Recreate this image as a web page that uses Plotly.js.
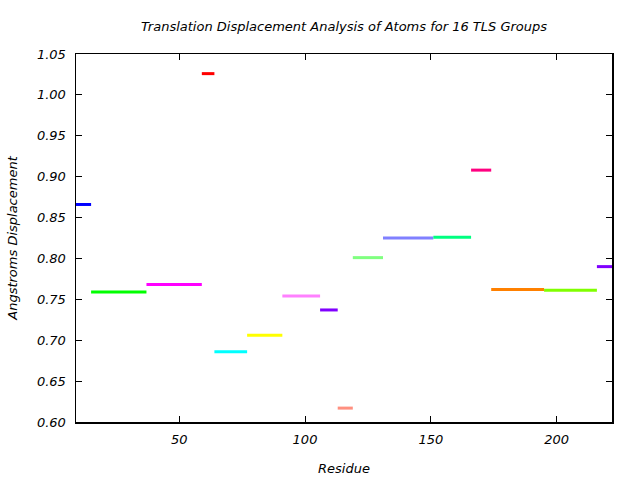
<!DOCTYPE html>
<html>
<head>
<meta charset="utf-8">
<script src="https://cdn.plot.ly/plotly-3.0.1.min.js"></script>
<style>html,body{margin:0;padding:0;background:#fff;}#chart{width:640px;height:480px;}</style>
</head>
<body>
<div id="chart"></div>
<script>
const groupStart = [9, 15, 37, 59, 64, 77, 91, 106, 113, 119, 131, 151, 166, 174, 195, 216];
const groupEnd   = [15, 37, 59, 64, 77, 91, 106, 113, 119, 131, 151, 166, 174, 195, 216, 222];
const displacement = [0.866, 0.759, 0.768, 1.026, 0.686, 0.706, 0.754, 0.737, 0.617, 0.801, 0.825, 0.826, 0.908, 0.762, 0.761, 0.790];
const groupColors = ['#0000ff', '#00ff00', '#ff00ff', '#ff0000', '#00ffff', '#ffff00', '#ff80ff', '#8000ff',
                     '#ff9080', '#80ff80', '#8080ff', '#00ff80', '#ff0080', '#ff8000', '#80ff00', '#8000ff'];
const xTicks = [50, 100, 150, 200];
const yTicks = [0.60, 0.65, 0.70, 0.75, 0.80, 0.85, 0.90, 0.95, 1.00, 1.05];

const traces = groupStart.map((s, i) => ({
  type: 'scatter', mode: 'lines',
  x: [s, groupEnd[i]], y: [displacement[i], displacement[i]],
  line: {color: groupColors[i], width: 3},
  hoverinfo: 'none', showlegend: false
}));

const font = {family: 'DejaVu Sans', size: 13, color: '#000', style: 'italic'};
const layout = {
  width: 640, height: 480,
  margin: {l: 76, r: 28, t: 54, b: 58},
  paper_bgcolor: '#fff', plot_bgcolor: '#fff',
  font: font,
  title: {text: 'Translation Displacement Analysis of Atoms for 16 TLS Groups',
          font: font, x: 0.5375, xanchor: 'center', y: 0.945, yanchor: 'middle'},
  xaxis: {
    range: [9, 222], tickvals: xTicks, ticktext: xTicks.map(v => String(v)),
    ticks: 'inside', ticklen: 6, tickcolor: '#000', showline: true, linecolor: '#000', linewidth: 1.5,
    mirror: 'ticks', showgrid: false, zeroline: false, ticklabelstandoff: 5,
    title: {text: 'Residue', font: font, standoff: 18},
    tickfont: font
  },
  yaxis: {
    range: [0.60, 1.05], tickvals: yTicks, ticktext: yTicks.map(v => v.toFixed(2)),
    ticks: 'inside', ticklen: 6, tickcolor: '#000', showline: true, linecolor: '#000', linewidth: 1.5,
    mirror: 'ticks', showgrid: false, zeroline: false, ticklabelstandoff: 6,
    title: {text: 'Angstroms Displacement', font: font, standoff: 16},
    tickfont: font
  }
};
Plotly.newPlot('chart', traces, layout, {staticPlot: true, displayModeBar: false});
</script>
</body>
</html>
